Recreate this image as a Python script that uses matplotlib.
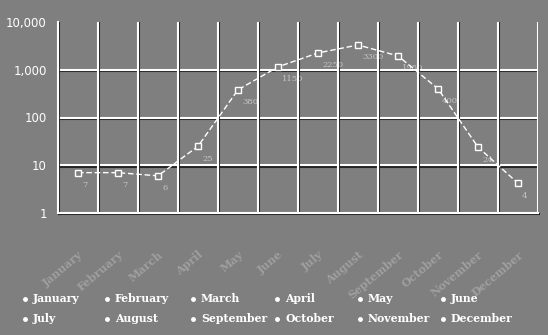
import matplotlib
matplotlib.use("Agg")
import matplotlib.pyplot as plt
import matplotlib.patheffects as pe
from matplotlib.lines import Line2D

months = ["January", "February", "March", "April", "May", "June",
          "July", "August", "September", "October", "November", "December"]
values = [7, 7, 6, 25, 380, 1150, 2250, 3300, 1950, 400, 24, 4.2]
value_labels = ["7", "7", "6", "25", "380", "1150", "2250", "3300", "1950", "400", "24", "4"]
y_ticks = [1, 10, 100, 1000, 10000]
y_tick_labels = ["1", "10", "100", "1,000", "10,000"]

BG = "#7f7f7f"
W, H = 548, 335
fig = plt.figure(figsize=(W / 100, H / 100), dpi=100, facecolor=BG)
ax = fig.add_axes([58 / W, 1 - 213 / H, 480 / W, 191 / H])
ax.set_facecolor(BG)
ax.set_yscale("log")
ax.set_xlim(0, 12)
ax.set_ylim(1, 10000)

shadow = [pe.SimpleLineShadow(offset=(1, -1), shadow_color="#1a1a1a", alpha=0.9), pe.Normal()]

for yv in y_ticks[1:-1]:
    ax.axhline(yv, color="white", lw=1.5, path_effects=shadow, zorder=1)
for xv in range(1, 13):
    ax.axvline(xv, color="white", lw=1.5, path_effects=shadow, zorder=1)

for s in ["top", "right"]:
    ax.spines[s].set_visible(False)
for s in ["left", "bottom"]:
    ax.spines[s].set_color("white")
    ax.spines[s].set_linewidth(1.5)
    ax.spines[s].set_path_effects(shadow)

xs = [i + 0.5 for i in range(len(months))]
ax.plot(xs, values, color="white", lw=1.0, ls=(0, (4, 2)), marker="s", ms=4.5,
        mfc=BG, mec="white", mew=1.0, zorder=3)

for x, v, lab in zip(xs, values, value_labels):
    ax.annotate(lab, (x, v), xytext=(3, -9), textcoords="offset points",
                fontsize=6, color="white", alpha=0.55, ha="left", va="center",
                family="DejaVu Serif")

ax.set_yticks(y_ticks)
ax.set_yticklabels(y_tick_labels, fontsize=8.5, color="white", family="DejaVu Sans")
ax.yaxis.set_minor_locator(matplotlib.ticker.NullLocator())
ax.set_xticks(xs)
ax.set_xticklabels(months, rotation=40, ha="right", rotation_mode="anchor",
                   fontsize=8, color="#d0d0d0", alpha=0.4,
                   family="DejaVu Serif", fontweight="bold")
ax.tick_params(axis="both", length=0)
ax.tick_params(axis="x", pad=26)
ax.tick_params(axis="y", pad=8)

col_x = [25, 107, 193, 277, 360, 443]
row_y = [299, 319]
for i, m in enumerate(months):
    r, c = divmod(i, 6)
    xm = col_x[c] / W
    ym = 1 - row_y[r] / H
    fig.add_artist(Line2D([xm], [ym], marker="o", ms=2.5, color="white",
                          mec="white", transform=fig.transFigure))
    fig.text(xm + 8 / W, ym, m, color="white", fontsize=7.8, va="center", ha="left",
             family="DejaVu Serif", fontweight="bold")

fig.savefig("out.png", dpi=100, facecolor=BG)
